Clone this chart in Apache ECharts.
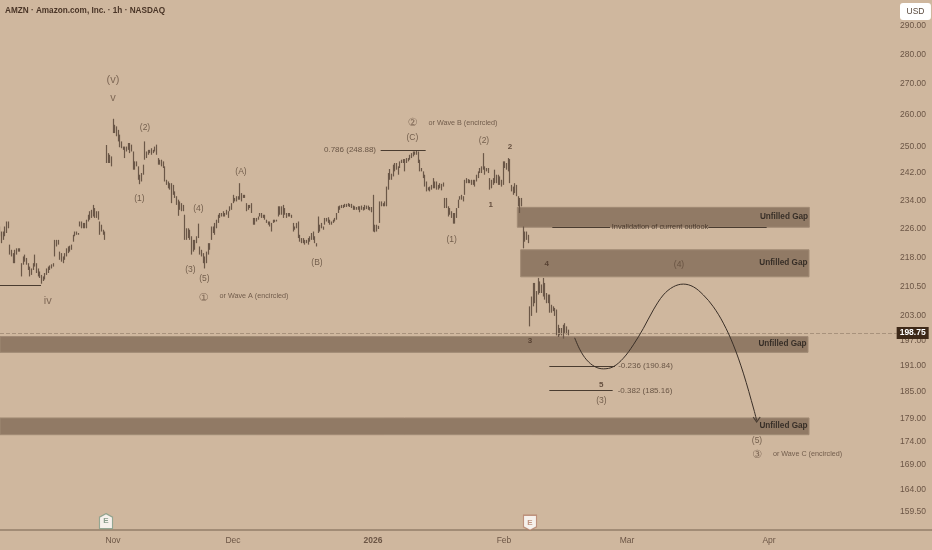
<!DOCTYPE html>
<html><head><meta charset="utf-8">
<style>html,body{margin:0;padding:0;background:#cfb79e}#c{width:932px;height:550px}</style>
<script src="https://cdn.jsdelivr.net/npm/echarts@6/dist/echarts.min.js"></script>
</head><body><div id="c"></div>
<script>
// Aggregated price bars (one bar unit ~ 2.5 hourly candles)
const barHighs = [226.6,225.2,225.2,226.6,228,228,221.6,220.2,219.3,220.2,220.6,220.6,220.6,216.6,218.4,218.9,218,216.6,215.7,215.2,216.6,218.9,216.6,215.2,214.4,213.5,213.1,214,215.2,215.7,216,216.3,216.6,222.9,222.9,222.9,219.7,219.3,218.4,219.3,220.6,221.1,221.3,221.6,224.3,225.2,225.2,224.8,228,228,227.6,227.6,228.5,229.9,230.9,231.3,232.7,231.8,230.9,230.9,228,227.1,225.7,225.2,
250.5,248,247.5,247,258.7,256.8,256.3,255.2,253.7,251.6,250,250,250,251.1,251.1,250.6,248.5,245.5,245.5,244,241.5,242,244.5,251.6,248.5,249,249,249.5,249,250,250.6,246.5,246,246,245.5,244,240,239.5,239,239,238.5,236.6,235.2,234.2,233.7,233.2,232.7,229.9,226.1,226.1,225.7,223.9,222.9,222.9,223.9,227.4,221.1,220.2,219.3,218.4,219.7,222,222,226.6,226.6,227.6,228.5,229.9,230.4,230.4,230.9,230.4,231.3,230.9,232.3,233.2,235.6,234.7,235.2,235.2,239,236.1,235.6,235.6,233.2,232.7,232.7,233.2,229,229,229,229.4,230.4,230.4,229.9,229.9,228.5,228,228,227.6,228.5,228.5,228.5,232.3,232.3,232.3,232.7,231.8,230.4,230.4,230.4,229.9,227.6,226.6,227.6,228,
224.3,223.4,223.4,222.9,222.9,223.4,223.9,224.8,225.2,223.9,222,229.4,227.1,227.6,226.6,229,229,229.2,228.5,228,228.5,229,230.4,232.3,232.5,232.7,232.7,233,233,233.2,233,233,232.5,232.3,232.1,232.3,232.3,232.5,232.1,232.7,232.5,232.5,232.1,232.1,235.6,227.1,227.1,226.8,233.7,233.7,233.2,233.7,238,242,243.2,241.8,244.5,245,245,244,245.5,246,246.2,246.2,246.5,246.5,247.5,248,248.5,248.5,248.8,248.5,246,243.5,242.5,241.5,239.5,237.8,238,238.5,240.5,239.5,239.5,238.5,239,238.8,239.2,234.7,234.7,232.3,231.8,230.9,230.4,230.4,231.8,234.2,235.2,235.6,235.2,240,240.5,240.2,240,240,240,240,241.5,242.5,243.5,244,248,244,243.5,243.5,240.5,240,240.5,243,241.5,241.5,241,240,245.5,245.5,245,246.5,246.2,238.5,238,239,238.5,235.2,234.7,234.7,226.6,225.2,225.2,224.3,
205.4,207.9,211.4,211.4,209.3,212.7,211.8,211,212.7,211.4,208.8,208.4,208.4,205.8,205.4,205,204.6,200.8,200,200,200.8,201.2,200.4,199.6];
const barLows = [223.9,222,222.9,223.9,224.8,226.1,218.9,218.4,216.6,216.6,218.9,219.7,219.7,213.1,216.2,217,216.2,214.8,213.1,213.5,214.8,215.7,214,213.1,212.7,211.2,211.9,212.3,213.5,214,214.8,215.2,215.7,218.4,221.1,221.6,217.5,217,216.6,217.5,218.4,219.3,219.7,220.2,222.4,223.9,224.3,224.3,226.6,226.1,226.1,226.1,226.1,228,228.5,229,229.4,229,229,228.5,224.3,225.2,224.3,222.9,
245,245,245,244,254.2,254.2,253.2,251.6,249.8,249.5,249,246.5,248.5,249,248,248.5,243,243,244,240,238.7,239.5,241.5,246,246.5,247.5,248,247.5,248,248.5,247.5,244.5,244.5,244,243.5,239.5,238.5,237.5,237.1,233.2,235.6,234.7,232.7,229.6,231.3,230.9,230.9,222.9,222.9,223.4,222.9,218.9,219.7,220.2,222,223.4,218.9,218.4,216.6,215.2,216.6,218.9,220.2,222.9,224.8,224.3,226.1,227.6,229,229.4,229.4,229.4,229.9,229,230.9,231.3,233.2,233.7,233.7,234.2,234.2,233.7,234.7,234.7,230.9,231.3,231.8,230.4,227.1,227.1,228,228.5,229.4,229,229,228.5,227.6,227.1,226.6,225.2,227.6,227.8,228,229.4,229.9,229.9,229,229.9,229,229.4,229.4,229,225.2,225.7,226.1,223.4,
222.4,222,222,221.6,222,221.6,222.4,222.9,222.9,222,221.1,224.8,225.2,226.1,225.7,227.1,228,227.6,227.1,227.1,227.6,228,228.5,230.4,231.3,231.8,231.8,232.1,232.1,232.3,232.1,231.8,231.3,231.3,231.3,231.3,230.6,231.3,231.1,231.3,231.5,231.3,231.1,230.6,225.2,225,225.2,225.9,227.6,232.3,232.3,232.3,232.3,237.1,240,240,241,242.5,243,241.5,243.5,245,245,242.5,245,245.5,246,246.5,247,247.5,247.5,245,242.5,242.5,240.5,238,236.6,236.9,236.6,237.1,237.5,237.5,237.1,237.1,237.5,236.9,238,231.8,231.8,229.4,229.9,229,227.4,227.4,229,231.8,234.2,234.2,233.7,235.6,239,239,239,238.5,238.5,238,239.5,240.5,242,242,243,241.5,242.5,242,237.1,237.5,238.5,239,239,238.5,238.5,238,238.5,243.5,243,242.5,239,236.6,235.6,236.1,235.2,232.3,230.4,232.3,220.6,222.4,222.9,222,
200.4,203,205.4,206.2,203.8,208.4,208.8,208.8,207.9,207.1,206.2,206.2,203.8,203.8,204.2,203,198.2,197.8,198.2,198.2,197.4,198.8,198.4,198.2];

// Price axis
const priceTicks = [159.5,164,169,174,179,185,191,197,203,210.5,218,226,234,242,250,260,270,280,290];
const lastPrice = 198.75;

// Time axis (position in bar units, label)
const monthBars = [67.8,139.8,223.8,302.4,376.2,461.4];
const monthLabels = ['Nov','Dec','2026','Feb','Mar','Apr'];

// Unfilled-gap zones
const zoneStart = [310.4,312.4,0,0];
const zoneEnd = [485.6,485.4,484.8,485.4];
const zoneTop = [232,220.2,197.9,179.05];
const zoneBottom = [226.4,213,194.1,175.4];

// Horizontal level lines
const levelStart = [0,228.4,331.4,425,329.6,329.6];
const levelEnd = [24.6,255.4,366,460,369,367.6];
const levelPrice = [210.8,248.88,226.4,226.4,190.84,185.16];

// Forecast path
const pathBars = [344.8,348,352,357,362,368,374,380,386,392,398,404,410,416,422,428,434,440,446,452.4,454];
const pathPrices = [197.6,194.7,192.3,190.7,190.2,190.7,192.7,195.9,199.9,204.5,208.3,210.4,211.1,210.4,208.3,205.3,201.2,195.9,189.2,180.8,178.5];

// Wave labels
const largeTexts = ['(v)','v','iv'];
const largeBars = [67.8,67.8,28.6];
const largePrices = [271.3,265.4,206.8];

const waveTexts = ['(1)','(2)','(3)','(4)','(5)','(A)','(B)','(C)','(2)','(1)','(4)','(3)','(5)'];
const waveBars = [83.6,87,114.2,119,122.6,144.6,190.2,247.4,290.4,271,407.4,360.8,454.2];
const wavePrices = [234.4,255.8,215,231.5,212.5,242.3,216.8,252.9,251.8,222.9,216.2,182.8,174.1];

const minorTexts = ['2','1','4','3','5'];
const minorBars = [306,294.4,328,318,360.8];
const minorPrices = [249.8,232.7,216.4,196.9,186.5];

const circleTexts = ['①','②','③'];
const circleBars = [122,247.4,454.2];
const circlePrices = [207.5,257.4,171.1];

const noteTexts = ['or Wave A (encircled)','or Wave B (encircled)','or Wave C (encircled)'];
const noteBars = [152.4,277.8,484.5];
const notePrices = [207.9,257.3,171.3];

const outlookTexts = ['Invalidation of current outlook'];
const outlookBars = [396];
const outlookPrices = [226.4];

const fibTexts = ['0.786 (248.88)','-0.236 (190.84)','-0.382 (185.16)'];
const fibBars = [210,387.3,387];
const fibPrices = [248.88,190.84,185.16];

const gapTexts = ['Unfilled Gap','Unfilled Gap','Unfilled Gap','Unfilled Gap'];
const gapBars = [470.4,470,469.5,470.1];
const gapPrices = [229.4,216.6,196.1,177.3];

// Earnings markers
const earnBars = [63.6,318];
const earnPrices = [157.7,157.4];

const FONT = '"Liberation Sans",sans-serif';
const TXT = '#6b5545';
const labelSeries = (texts,bars,prices,size,color,weight,family) => ({
  type:'scatter', symbol:'circle', symbolSize:1, silent:true, z:20, clip:false,
  itemStyle:{color:'transparent'},
  data:texts.map((t,i)=>({value:[bars[i],prices[i]],name:t})),
  label:{show:true,position:'inside',formatter:p=>p.name,fontSize:size,color,fontWeight:weight||'normal',fontFamily:family||FONT},
  labelLayout:{hideOverlap:false}
});

const chart = echarts.init(document.getElementById('c'),null,{renderer:'canvas'});
chart.setOption({
  animation:false,
  backgroundColor:'#cfb79e',
  title:[
    {text:'AMZN · Amazon.com, Inc. · 1h · NASDAQ',left:5,top:6.5,padding:0,textStyle:{fontFamily:FONT,fontSize:8.2,fontWeight:'bold',color:'#4a3527'}},
    {text:'USD',left:900,top:3,padding:[4,6.5,4,6.5],backgroundColor:'#ffffff',borderRadius:3,textStyle:{fontFamily:FONT,fontSize:8.5,fontWeight:'normal',color:'#5a4a3e'}}
  ],
  grid:{left:0,right:0,top:0,bottom:20},
  xAxis:{type:'value',min:0,max:559.2,
    axisLine:{lineStyle:{color:'#a28c76',width:2}},axisTick:{show:false},splitLine:{show:false},
    axisLabel:{customValues:monthBars,margin:6,fontFamily:FONT,fontSize:8.5,color:TXT,
      formatter:v=>{const s=monthLabels[monthBars.indexOf(v)];return s==='2026'?'{b|2026}':s;},
      rich:{b:{fontWeight:'bold',fontFamily:FONT,fontSize:8.5,color:TXT}}}},
  yAxis:{type:'log',logBase:10,min:156,max:299.4,position:'right',
    axisLine:{show:false},axisTick:{show:false},splitLine:{show:false},
    axisLabel:{inside:true,customValues:priceTicks,margin:6,fontFamily:FONT,fontSize:8.5,color:TXT,formatter:v=>v.toFixed(2)}},
  series:[
    {type:'candlestick',silent:true,z:3,barWidth:1,
      encode:{x:0,y:[1,2,3,4]},
      itemStyle:{color:'#6b5747',color0:'#6b5747',borderColor:'#6b5747',borderColor0:'#6b5747',borderWidth:1.2},
      data:barHighs.map((h,i)=>[i,barLows[i],h,barLows[i],h])},
    {type:'line',silent:true,z:5,symbol:'none',data:[],
      markArea:{silent:true,itemStyle:{color:'#917a65',borderColor:'#a08a74',borderWidth:1},
        data:zoneStart.map((s,i)=>[{coord:[s,zoneTop[i]]},{coord:[zoneEnd[i],zoneBottom[i]]}])}},
    {type:'line',silent:true,z:6,symbol:'none',data:[],
      markLine:{silent:true,symbol:'none',animation:false,
        lineStyle:{type:'solid',color:'#4a3c30',width:1},label:{show:false},
        data:levelStart.map((s,i)=>[{coord:[s,levelPrice[i]]},{coord:[levelEnd[i],levelPrice[i]]}])}},
    {type:'line',silent:true,z:4,symbol:'none',data:[],
      markLine:{silent:true,symbol:'none',animation:false,
        lineStyle:{type:'dashed',color:'#a8927c',width:1},
        data:[[{coord:[0,lastPrice],label:{show:true,position:'end',distance:0,formatter:()=>lastPrice.toFixed(2),
          color:'#fff',fontFamily:FONT,fontWeight:'bold',fontSize:8.5,backgroundColor:'#3d2818',padding:[2,3,1,3]}},{coord:[538,lastPrice]}]]}},
    {type:'line',silent:true,z:8,smooth:0.35,symbol:'none',lineStyle:{color:'#3a2f27',width:1},
      data:pathBars.map((b,i)=>[b,pathPrices[i]])},
    {type:'scatter',silent:true,z:9,
      symbol:'path://M-4,-5 L0,0 L4,-5 L0,0 Z',symbolSize:[7,5],symbolOffset:[0,-1],
      itemStyle:{color:'none',borderColor:'#3a2f27',borderWidth:1},
      data:[[pathBars[pathBars.length-1],pathPrices[pathPrices.length-1]]]},
    labelSeries(largeTexts,largeBars,largePrices,11,TXT),
    labelSeries(waveTexts,waveBars,wavePrices,8.5,'#5c4838'),
    labelSeries(minorTexts,minorBars,minorPrices,8,'#4a3527','bold'),
    labelSeries(circleTexts,circleBars,circlePrices,11,TXT,'normal','"DejaVu Sans"'),
    labelSeries(noteTexts,noteBars,notePrices,7.2,'#5a4637'),
    labelSeries(outlookTexts,outlookBars,outlookPrices,7.4,'#33261c'),
    labelSeries(fibTexts,fibBars,fibPrices,8,'#4f3c2e'),
    labelSeries(gapTexts,gapBars,gapPrices,8.2,'#1f1a16','bold'),
    {type:'scatter',silent:true,z:10,clip:false,
      symbol:'path://M0,-8 L6,-4.5 L6,7 L-6,7 L-6,-4.5 Z',symbolSize:[13,15],
      itemStyle:{color:'#fff',borderColor:'#7f9a85',borderWidth:1.2},
      label:{show:true,position:'inside',formatter:'E',fontSize:8,fontFamily:FONT,color:'#6f8a76',fontWeight:'bold'},
      data:[[earnBars[0],earnPrices[0]]]},
    {type:'scatter',silent:true,z:10,clip:false,
      symbol:'path://M0,8 L6,4.5 L6,-7 L-6,-7 L-6,4.5 Z',symbolSize:[13,15],
      itemStyle:{color:'#fff',borderColor:'#b47f69',borderWidth:1.2},
      label:{show:true,position:'inside',formatter:'E',fontSize:8,fontFamily:FONT,color:'#b47f69',fontWeight:'bold'},
      data:[[earnBars[1],earnPrices[1]]]}
  ]
});
</script></body></html>
